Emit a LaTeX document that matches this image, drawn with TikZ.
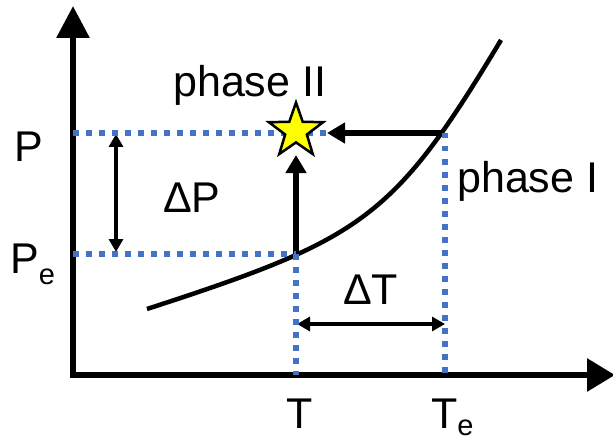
\documentclass[tikz,border=0pt]{standalone}
\usepackage{fontspec}
\setmainfont{Liberation Sans}
\usetikzlibrary{arrows.meta,shapes.geometric}
\definecolor{dotblue}{HTML}{4472C4}
\definecolor{staryellow}{HTML}{FFFF00}
\tikzset{
  axisline/.style={line width=6pt, line join=miter, {Triangle[length=32pt,width=32pt]}-{Triangle[length=28pt,width=32pt]}},
  curveline/.style={line width=4.5pt},
  thickarrow/.style={line width=6pt, -{Triangle[length=18pt,width=20pt]}},
  thinarrow/.style={line width=3.2pt, {Triangle[length=13pt,width=14pt]}-{Triangle[length=13pt,width=14pt]}},
  dotline/.style={draw=dotblue, line width=5.5pt, dash pattern=on 5.5pt off 7.5pt},
  starnode/.style={star, star points=5, star point ratio=2.5, minimum size=57pt, inner sep=0pt, draw=black, line width=2.5pt, fill=staryellow},
  bigtxt/.style={anchor=base west, inner sep=0pt, font=\fontsize{43}{43}\selectfont},
  phasetxt/.style={anchor=base west, inner sep=0pt, font=\fontsize{43}{43}\selectfont},
}
\begin{document}
\begin{tikzpicture}[x=1pt, y=-1pt]
\useasboundingbox (0,0) rectangle (613,441);
% key coordinates
\coordinate (O) at (73,375);
\coordinate (ytop) at (73,6);
\coordinate (xend) at (615,375);
\coordinate (C0) at (147,309);
\coordinate (C3) at (501,40);
\coordinate (A) at (296,254);
\coordinate (B) at (444,133);
\coordinate (upTip) at (296,155);
\coordinate (leftTip) at (327,133);
\coordinate (Pax) at (73,133);
\coordinate (Peax) at (73,254);
\coordinate (Tax) at (296,375);
\coordinate (Teax) at (445,375);
\coordinate (Btop) at (445,133);
\coordinate (dPtop) at (116,134);
\coordinate (dPbot) at (116,252);
\coordinate (dTl) at (297,324);
\coordinate (dTr) at (445,324);
% axes
\draw[axisline] (ytop) -- (O) -- (xend);
% curve
\draw[curveline] (C0) .. controls (362,239) and (393,220) .. (C3);
% arrows
\draw[thickarrow] (A) -- (upTip);
\draw[thickarrow] (B) -- (leftTip);
\draw[thinarrow] (dPtop) -- (dPbot);
\draw[thinarrow] (dTl) -- (dTr);
% dotted guide lines
\draw[dotline] (Pax) -- (leftTip);
\draw[dotline] (Peax) -- (A);
\draw[dotline] (A) -- (Tax);
\draw[dotline] (Btop) -- (Teax);
% star
\node[starnode] (star) at (296,131) {};
% labels
\node[bigtxt] (lP) at (14,161) {P};
\node[bigtxt] (lPe) at (10,273) {P\raisebox{-11pt}{\fontsize{29}{29}\selectfont e}};
\node[bigtxt] (ldP) at (163,212) {ΔP};
\node[bigtxt] (ldT) at (343,304) {ΔT};
\node[bigtxt] (lT) at (286,428) {T};
\node[bigtxt] (lTe) at (431,428) {T\raisebox{-7pt}{\fontsize{29}{29}\selectfont e}};
\node[phasetxt] (ph2) at (173,97) {phase II};
\node[phasetxt] (ph1) at (457,193) {phase I};
\end{tikzpicture}
\end{document}
